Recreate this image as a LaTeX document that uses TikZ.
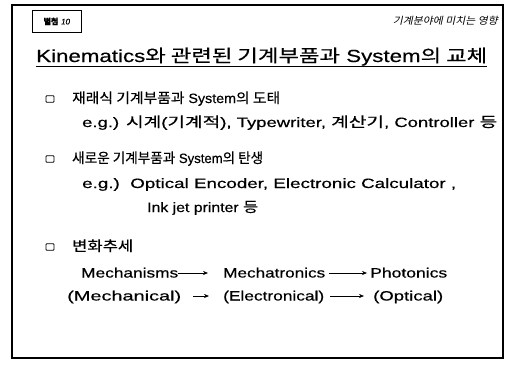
\documentclass[tikz,border=0pt]{standalone}
\usepackage{fontspec}
\usepackage{graphicx}
\setmainfont{Liberation Sans}[FakeBold=0.4]
\newfontfamily\krf{Noto Sans CJK KR}[FakeBold=0.4]
\newfontfamily\krit{Noto Sans CJK KR}[FakeSlant=0.2]
\newcommand\K[1]{{\krf #1}}
\newcommand\KB[1]{{\fontsize{14}{16}\krf #1}}
\usetikzlibrary{arrows.meta}
\tikzset{
  txt/.style={anchor=base west, inner sep=0pt, font=\fontsize{13.5}{16}\selectfont},
  bul/.style={draw, line width=0.9pt, minimum width=8pt, minimum height=6.5pt, inner sep=0pt, rounded corners=0.8pt},
  word/.style={anchor=west, inner sep=0pt, text height=9pt, text depth=0pt, font=\fontsize{13.5}{16}\selectfont},
  arr/.style={-{Stealth[length=5pt,width=4pt]}, line width=0.6pt},
}
\begin{document}
\begin{tikzpicture}[x=1pt,y=-1pt]
\useasboundingbox (0,0) rectangle (508,375);
\fill[white] (0,0) rectangle (508,375);
% frame
\draw[line width=1.3pt] (12,5) rectangle (503,358);
% label box
\node[draw, line width=0.7pt, minimum width=49pt, minimum height=22pt, anchor=north west, inner sep=0pt] (lbl) at (32,10)
  {{\fontsize{8}{9}\krf\bfseries 별첨} {\fontsize{8}{9}\selectfont\itshape 10}};
% header
\node[anchor=base east, inner sep=0pt] (hdr) at (498,24)
  {\resizebox{105pt}{\height}{\fontsize{10}{12}\krit 기계분야에 미치는 영향}};
% title
\node[anchor=base west, inner sep=0pt, font=\fontsize{17.5}{20}\selectfont] (title) at (36,62)
  {\resizebox{451pt}{\height}{Kinematics\K{\fontsize{17.5}{20}\selectfont 와 관련된 기계부품과} System\K{\fontsize{17.5}{20}\selectfont 의 교체}}};
\draw[line width=1pt] ([yshift=-4pt]title.base west) -- ([yshift=-4pt]title.base east);
% bullet 1
\node[bul] (bu1) at (50,99) {};
\node[txt] (t1) at (72,103) {\resizebox{208pt}{\height}{\KB{재래식 기계부품과} System\KB{의 도태}}};
\node[txt] (t1e) at (82,127) {\resizebox{415pt}{\height}{e.g.) \KB{시계}(\KB{기계적}), Typewriter, \KB{계산기}, Controller \KB{등}}};
% bullet 2
\node[bul] (bu2) at (50,159) {};
\node[txt] (t2) at (72,163) {\resizebox{191pt}{\height}{\KB{새로운 기계부품과} System\KB{의 탄생}}};
\node[txt] (t2e) at (82,188) {\resizebox{374pt}{\height}{e.g.)\ \ Optical Encoder, Electronic Calculator ,}};
\node[txt] (t2f) at (147,212) {\resizebox{111pt}{\height}{Ink jet printer \KB{등}}};
% bullet 3
\node[bul] (bu3) at (50,247) {};
\node[txt] (t3) at (72,251) {\resizebox{61pt}{\height}{\KB{변화추세}}};
% row 1
\node[word] (m1) at (81,273) {\resizebox{97pt}{\height}{Mechanisms}};
\node[word] (m2) at (223,273) {\resizebox{102pt}{\height}{Mechatronics}};
\node[word] (m3) at (370,273) {\resizebox{77pt}{\height}{Photonics}};
% row 2
\node[word] (n1) at (67,296) {\resizebox{114pt}{\height}{(Mechanical)}};
\node[word] (n2) at (223,296) {\resizebox{101pt}{\height}{(Electronical)}};
\node[word] (n3) at (373,296) {\resizebox{70pt}{\height}{(Optical)}};
% arrows
\draw[arr, shorten >=15pt] (m1.east) -- (m2.west);
\draw[arr, shorten <=4pt, shorten >=3pt] (m2.east) -- (m3.west);
\draw[arr, shorten <=12pt, shorten >=14pt] (n1.east) -- (n2.west);
\draw[arr, shorten <=6pt, shorten >=9pt] (n2.east) -- (n3.west);
\end{tikzpicture}
\end{document}
